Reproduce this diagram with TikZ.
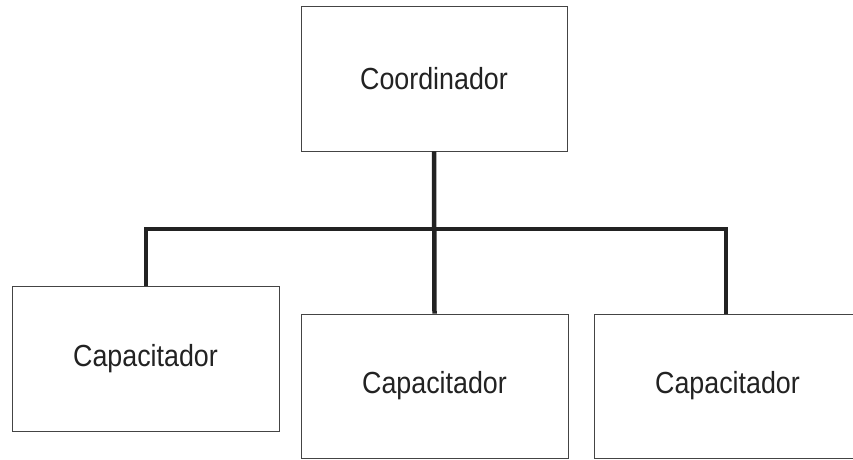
\documentclass[tikz,border=0pt]{standalone}
\usepackage{fontspec}
\setmainfont{Liberation Sans}
\usepackage{graphicx}
\definecolor{ink}{HTML}{222222}
\definecolor{boxline}{HTML}{444444}
\tikzset{
  orgbox/.style={draw=boxline, line width=0.9pt, rectangle, fill=white,
    minimum width=267pt, minimum height=145pt, inner sep=0pt, text=ink,
    font=\fontsize{30.5}{36}\selectfont},
  link/.style={draw=ink, line width=4.5pt, line cap=butt, line join=miter}
}
\newcommand{\lbl}[1]{\scalebox{0.88}[1]{#1}}
\begin{document}
\begin{tikzpicture}[x=1pt,y=-1pt]
\useasboundingbox (0,0) rectangle (853,459);
\clip (0,0) rectangle (853,459);
\fill[white] (0,0) rectangle (853,459);
\node[orgbox, minimum width=266pt] (coord) at (434,78.5) {\lbl{Coordinador}};
\node[orgbox] (capA) at (145.5,358.5) {\lbl{Capacitador}};
\node[orgbox, minimum height=144pt] (capB) at (434.5,386) {\lbl{Capacitador}};
\node[orgbox, minimum height=144pt] (capC) at (727.5,386) {\lbl{Capacitador}};
\coordinate (hub) at (434,229);
\draw[link] (coord.south) -- (capB.north);
\draw[link] ([xshift=0.5pt]capA.north) |- (hub) -| ([xshift=-1.5pt]capC.north);
\end{tikzpicture}
\end{document}
